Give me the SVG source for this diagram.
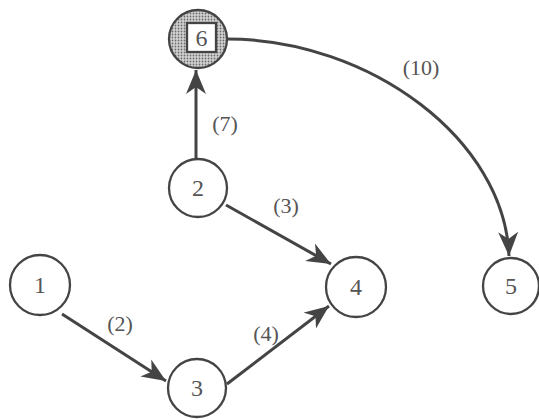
<svg xmlns="http://www.w3.org/2000/svg" width="539" height="419" viewBox="0 0 539 419">
<style>
.node{fill:#fff;stroke:#444;stroke-width:2.3}
.num{font-family:"Liberation Serif","DejaVu Serif",serif;font-size:24px;fill:#555;text-anchor:middle}
.lbl{font-family:"Liberation Serif","DejaVu Serif",serif;font-size:22px;fill:#555;text-anchor:middle}
.edge{fill:none;stroke:#444;stroke-width:3}
</style>
<defs>
<pattern id="dots" width="3" height="3" patternUnits="userSpaceOnUse">
<rect width="3" height="3" fill="#d4d4d4"/>
<circle cx="1.5" cy="1.5" r="0.9" fill="#6a6a6a"/>
</pattern>
<marker id="arr" markerUnits="userSpaceOnUse" markerWidth="26" markerHeight="22" refX="24" refY="11" orient="auto" viewBox="0 0 26 22">
<path d="M24,11 L0,1 L7,11 L0,21 Z" fill="#444"/>
</marker>
</defs>
<rect width="539" height="419" fill="#fff"/>
<g id="connectors">
<line class="edge" x1="196" y1="159" x2="196" y2="70" marker-end="url(#arr)"/>
<line class="edge" x1="226" y1="205" x2="331" y2="264" marker-end="url(#arr)"/>
<line class="edge" x1="62" y1="314" x2="166" y2="381" marker-end="url(#arr)"/>
<line class="edge" x1="227" y1="384" x2="329" y2="306" marker-end="url(#arr)"/>
<path class="edge" d="M227,39 C370,39 505,140 509,256" marker-end="url(#arr)"/>
<text class="lbl" x="225" y="131">(7)</text>
<text class="lbl" x="286" y="213">(3)</text>
<text class="lbl" x="120" y="331">(2)</text>
<text class="lbl" x="266" y="341">(4)</text>
<text class="lbl" x="421" y="75">(10)</text>
</g>
<g id="node6">
<circle cx="198" cy="39" r="29" fill="url(#dots)" stroke="#444" stroke-width="2.3"/>
<rect x="187" y="23" width="29" height="29" fill="#fff" stroke="#444" stroke-width="2.3"/>
<text class="num" x="201.5" y="46">6</text>
</g>
<g id="node2"><circle class="node" cx="198" cy="188" r="29"/><text class="num" x="198" y="196">2</text></g>
<g id="node4"><circle class="node" cx="356" cy="287" r="30"/><text class="num" x="356" y="295">4</text></g>
<g id="node1"><circle class="node" cx="40" cy="285" r="30"/><text class="num" x="40" y="293">1</text></g>
<g id="node3"><circle class="node" cx="197" cy="388" r="29"/><text class="num" x="197" y="396">3</text></g>
<g id="node5"><circle class="node" cx="511" cy="286" r="28"/><text class="num" x="511" y="294">5</text></g>
</svg>
